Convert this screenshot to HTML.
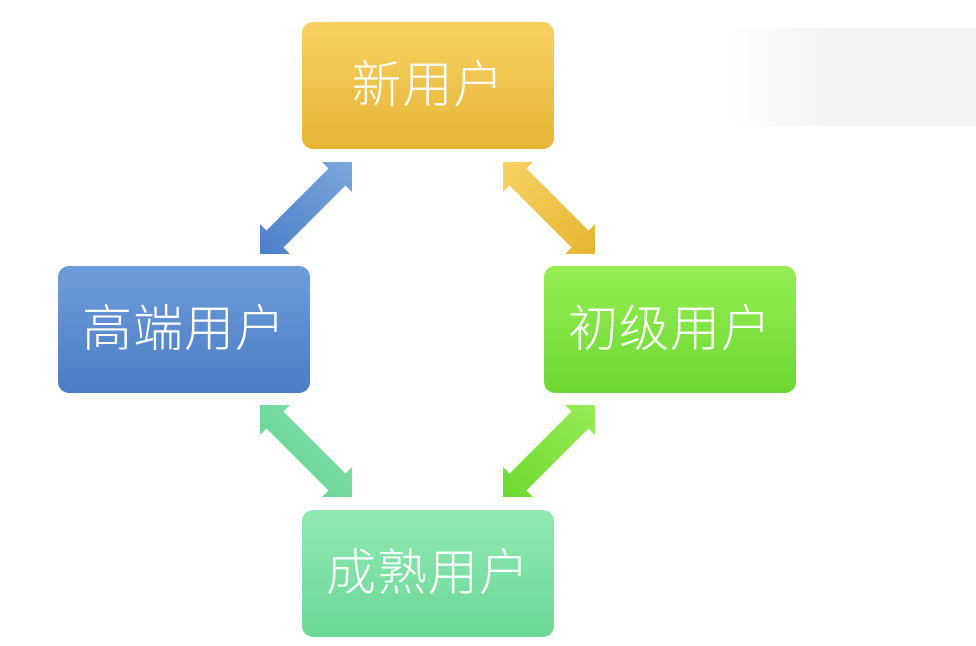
<!DOCTYPE html>
<html><head><meta charset="utf-8"><style>
html,body{margin:0;padding:0;background:#fff;}
body{width:976px;height:646px;position:relative;overflow:hidden;font-family:"Liberation Sans","Noto Sans CJK SC",sans-serif;}
.bg{position:absolute;left:730px;top:28px;width:246px;height:98px;background:linear-gradient(90deg,rgba(240,240,240,0),#f3f3f3 40%,#f3f3f3);}
.b{position:absolute;width:252px;height:127px;border-radius:11px;color:#fff;font-size:50px;line-height:127px;text-align:center;font-weight:300;letter-spacing:1px;}
svg{position:absolute;left:0;top:0;}
</style></head><body>
<div class="bg"></div>
<svg width="976" height="646">
<defs>
<linearGradient id="gb" x1="1" y1="0" x2="0" y2="1"><stop offset="0" stop-color="#7ea6dc"/><stop offset="1" stop-color="#4a7fc8"/></linearGradient>
<linearGradient id="gy" x1="1" y1="0" x2="0" y2="1"><stop offset="0" stop-color="#f6d264"/><stop offset="1" stop-color="#e6b532"/></linearGradient>
<linearGradient id="gg" x1="1" y1="1" x2="0" y2="0"><stop offset="0" stop-color="#85e2ad"/><stop offset="1" stop-color="#62d090"/></linearGradient>
<linearGradient id="gl" x1="0" y1="1" x2="1" y2="0"><stop offset="0" stop-color="#98ec58"/><stop offset="1" stop-color="#6cd82e"/></linearGradient>
<polygon id="a" points="352,162 352,192 345.5,185.5 283.5,247.5 290,254 260,254 260,224 266.5,230.5 328.5,168.5 322,162"/>
</defs>
<use href="#a" style="fill:url(#gb)"/>
<g transform="translate(855,0) scale(-1,1)"><use href="#a" style="fill:url(#gy)"/></g>
<g transform="translate(0,659) scale(1,-1)"><use href="#a" style="fill:url(#gg)"/></g>
<g transform="translate(855,659) scale(-1,-1)"><use href="#a" style="fill:url(#gl)"/></g>
</svg>
<div class="b" style="left:302px;top:22px;background:linear-gradient(#f6d262,#e6b536);">新用户</div>
<div class="b" style="left:58px;top:266px;background:linear-gradient(#6f9ddb,#4a7cc4);">高端用户</div>
<div class="b" style="left:544px;top:266px;background:linear-gradient(#96ee54,#6cd832);">初级用户</div>
<div class="b" style="left:302px;top:510px;background:linear-gradient(#90e9b2,#6bd896);">成熟用户</div>
</body></html>
